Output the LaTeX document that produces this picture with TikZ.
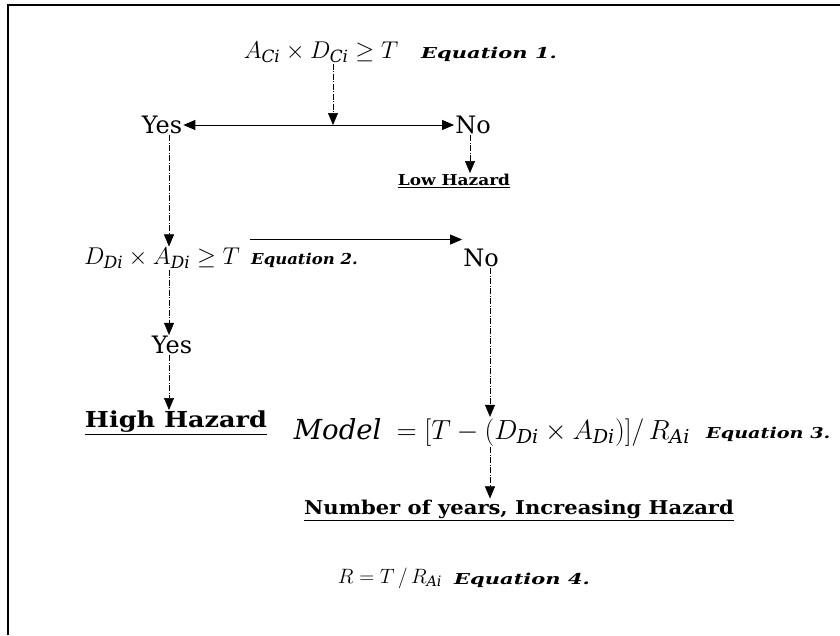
\documentclass[tikz,border=0pt]{standalone}
\usepackage{fontspec}
\setmainfont{DejaVu Serif}
\usetikzlibrary{arrows.meta}
\begin{document}
\begin{tikzpicture}[x=1pt,y=-1pt,
  frame/.style={line width=1.6pt},
  ans/.style={font=\fontsize{24}{28}\selectfont, inner sep=1pt},
  res/.style={font=\bfseries, inner sep=1pt},
  eqn/.style={inner sep=1pt, font=\fontsize{20.74}{24}\selectfont},
  eqlbl/.style={font=\bfseries\itshape\fontsize{15}{18}\selectfont, inner sep=1pt, anchor=west},
  flow/.style={line width=0.9pt, -{Triangle[length=12pt,width=10pt]}},
  dflow/.style={line width=0.5pt, dash pattern=on 6pt off 1.5pt on 1pt off 1.5pt, -{Triangle[length=12pt,width=10pt]}}
]
\useasboundingbox (0,0) rectangle (840,635);
\draw[frame] (8,635) -- (8,5) -- (840,5);

% columns of the vertical connectors
\coordinate (colA) at (333,0);
\coordinate (colB) at (470,0);
\coordinate (colC) at (169,0);
\coordinate (colD) at (490,0);

\node[eqn] (eq1) at (321,52) {\scalebox{1.17}{$A_{\mathit{Ci}}\times D_{\mathit{Ci}}\geq T$}};
\node[eqlbl] (eq1l) at (420,54) {\scalebox{1.4}[1]{Equation 1.}};
\coordinate (c1) at (333,125);
\node[ans] (yes1) at (162,125) {Yes};
\node[ans] (no1) at (473,125) {No};
\node[res] (low) at (454,181) {\fontsize{15}{18}\selectfont\scalebox{1.13}[1]{\underline{Low Hazard}}};

\node[eqn] (eq2) at (162,258) {\scalebox{1.17}{$D_{\mathit{Di}}\times A_{\mathit{Di}}\geq T$}};
\node[eqlbl] (eq2l) at (250,260) {\scalebox{1.1}[1]{Equation 2.}};
\node[ans] (no2) at (481,258) {No};
\node[ans] (yes2) at (172,345) {Yes};
\node[res] (high) at (176,423) {\fontsize{22}{26}\selectfont\scalebox{1.16}[1]{\underline{High Hazard}}};

\node[eqn] (eq3) at (492,432) {\scalebox{1.33}{$\mathit{Model}\;=\bigl[T-\bigl(D_{\mathit{Di}}\times A_{\mathit{Di}}\bigr)\bigr]/\,R_{\mathit{Ai}}$}};
\node[eqlbl] (eq3l) at (705,434) {\scalebox{1.28}[1]{Equation 3.}};
\node[res] (num) at (519,510) {\fontsize{19}{23}\selectfont\scalebox{1.11}[1]{\underline{Number of years, Increasing Hazard}}};
\node[eqn] (eq4) at (390,578) {$R=T\,/\,R_{\mathit{Ai}}$};
\node[eqlbl] (eq4l) at (453,580) {\scalebox{1.4}[1]{Equation 4.}};

% connectors
\draw[dflow] (eq1.south -| colA) -- (c1);
\draw[flow] (c1) -- (yes1.east);
\draw[flow] (c1) -- (no1.west);
\draw[dflow] (no1.south -| colB) -- (low.north -| colB);
\draw[dflow] (yes1.south -| colC) -- (eq2.north -| colC);
\draw[flow] ([yshift=12pt]eq2l.north west) -- ([yshift=12pt]eq2l.north west -| no2.west);
\draw[dflow] (eq2.south -| colC) -- (yes2.north -| colC);
\draw[dflow] (yes2.south -| colC) -- (high.north -| colC);
\draw[dflow] (no2.south -| colD) -- (eq3.north -| colD);
\draw[dflow] (eq3.south -| colD) -- (num.north -| colD);
\end{tikzpicture}
\end{document}
